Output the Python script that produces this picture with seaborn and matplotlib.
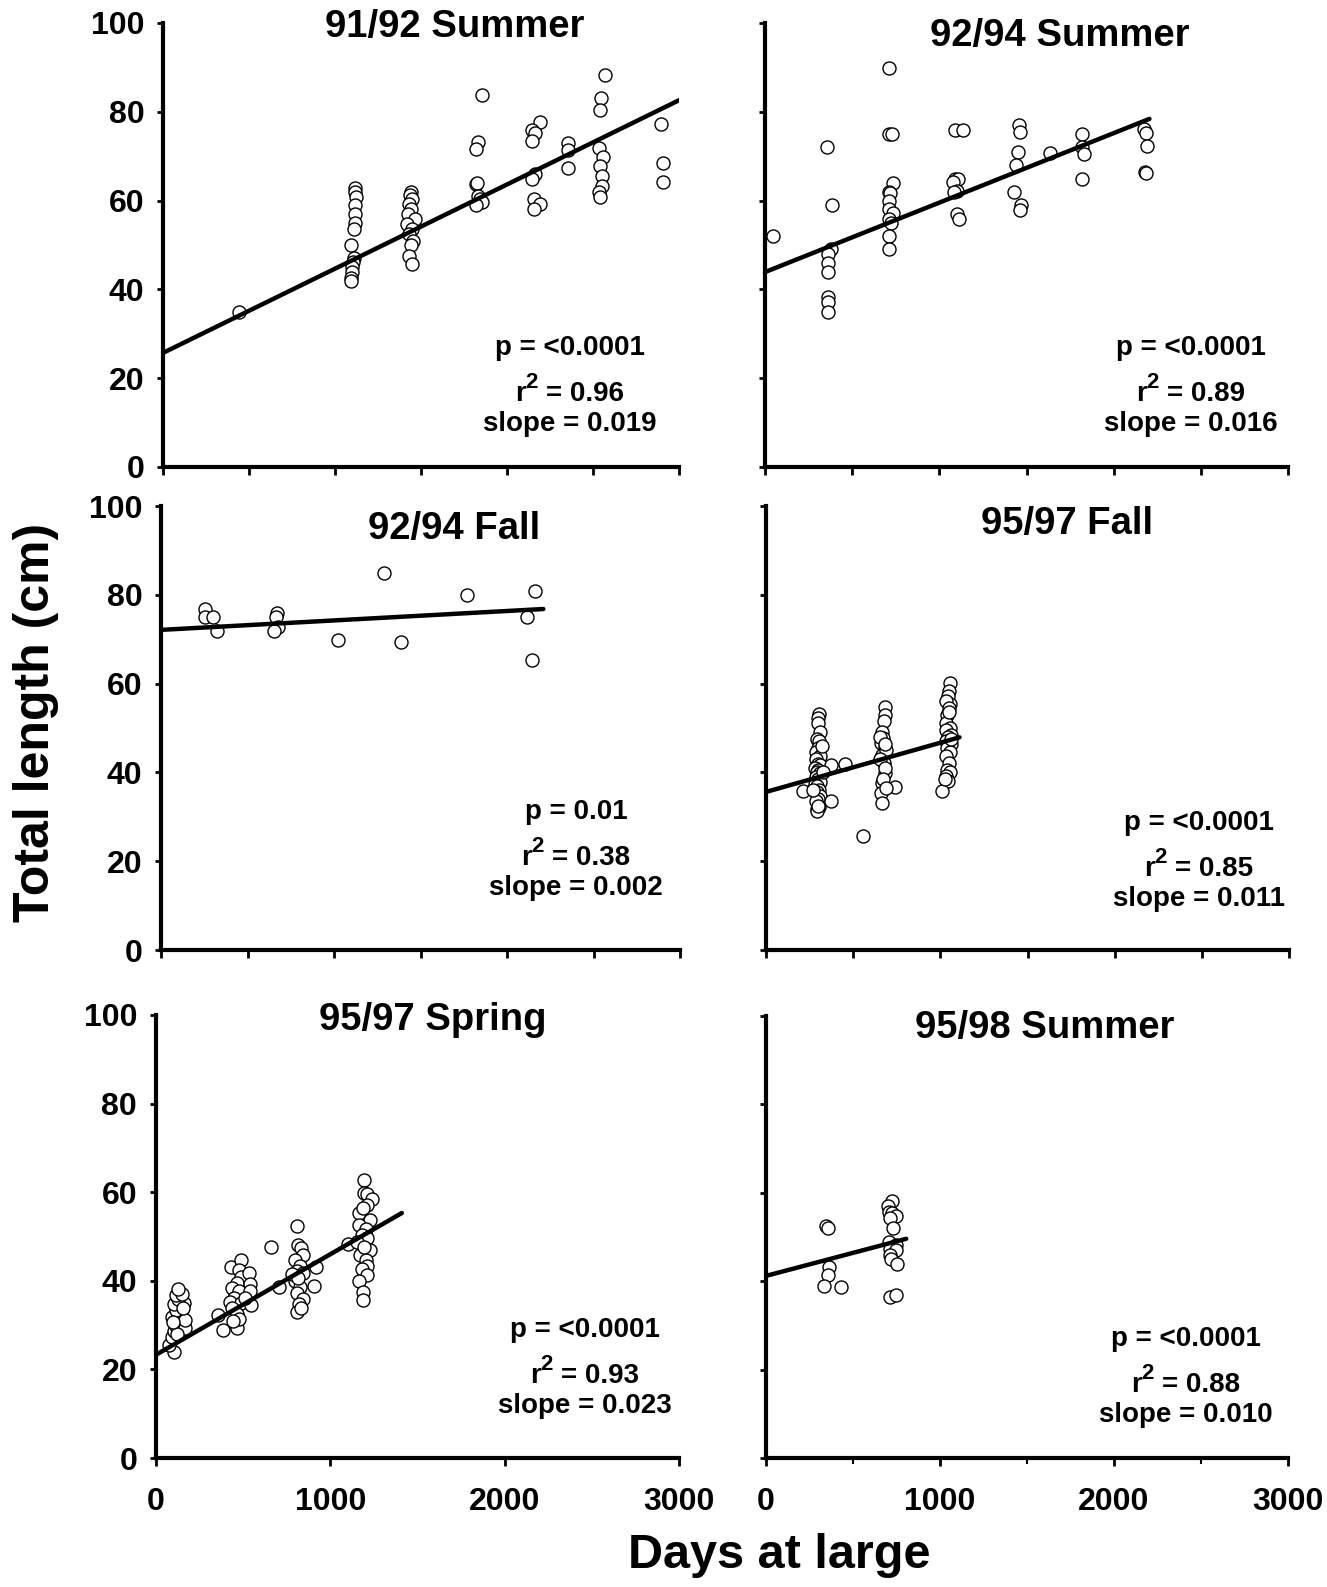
import numpy as np
import pandas as pd
import matplotlib
matplotlib.use("Agg")
import matplotlib.pyplot as plt
import seaborn as sns

sns.set_theme(style="white")
plt.rcParams["font.family"] = ["Liberation Sans", "DejaVu Sans"]
plt.rcParams["font.weight"] = "bold"

# ---------------- data ----------------
titles = ["91/92 Summer", "92/94 Summer", "92/94 Fall", "95/97 Fall", "95/97 Spring", "95/98 Summer"]
p_texts = ["p = <0.0001", "p = <0.0001", "p = 0.01", "p = <0.0001", "p = <0.0001", "p = <0.0001"]
r2_values = ["0.96", "0.89", "0.38", "0.85", "0.93", "0.88"]
slope_values = ["0.019", "0.016", "0.002", "0.011", "0.023", "0.010"]
y_ticks = [0, 20, 40, 60, 80, 100]
x_ticks_full = [0, 500, 1000, 1500, 2000, 2500, 3000]
x_ticks_major = [0, 1000, 2000, 3000]
x_ticks_minor = [500, 1500, 2500]

# 91/92 Summer
p1_days = [440,
           1117, 1117, 1122, 1117, 1115, 1117, 1112, 1091, 1109, 1105, 1100, 1097, 1094, 1091,
           1440, 1435, 1445, 1430, 1442, 1425, 1468, 1420, 1450, 1430, 1455, 1440, 1430, 1448,
           1852, 1831, 1818, 1818, 1826, 1833, 1844, 1852, 1818,
           2190, 2143, 2164, 2148, 2164, 2148, 2156, 2190, 2156,
           2356, 2356, 2356,
           2571, 2545, 2538, 2533, 2558, 2538, 2553, 2553, 2533, 2538,
           2896, 2909, 2909]
p1_length = [35.0,
             62.9, 61.9, 60.8, 58.9, 56.9, 54.9, 53.6, 49.9, 47.0, 46.1, 45.0, 43.9, 42.5, 41.8,
             62.0, 61.2, 60.4, 59.3, 58.1, 57.0, 55.9, 54.8, 53.6, 52.5, 50.8, 49.9, 47.6, 45.8,
             83.8, 73.1, 71.6, 63.8, 64.0, 61.1, 60.4, 59.6, 58.9,
             77.6, 75.8, 75.2, 73.5, 66.0, 64.9, 60.4, 59.3, 58.0,
             73.0, 71.3, 67.4,
             88.3, 83.0, 80.3, 71.8, 69.8, 67.7, 65.6, 63.2, 61.9, 60.9,
             77.3, 68.4, 64.3]
p1_fit_days = [0, 3000]
p1_fit_length = [25.7, 82.6]

# 92/94 Summer
p2_days = [46, 355, 384, 378, 362, 362, 362, 362, 362, 362,
           710, 710, 728, 732, 710, 717, 710, 710, 737, 710, 721, 710, 710,
           1088, 1133, 1088, 1106, 1076, 1099, 1083, 1099, 1115,
           1459, 1465, 1454, 1438, 1431, 1470, 1465,
           1637, 1820, 1820, 1832, 1820,
           2175, 2187, 2194, 2182, 2187]
p2_length = [52.0, 72.0, 59.0, 49.0, 48.0, 46.0, 44.0, 38.3, 37.1, 35.0,
             89.9, 75.0, 75.0, 64.0, 62.0, 61.7, 60.0, 58.1, 57.2, 55.9, 55.0, 52.0, 49.1,
             75.9, 75.9, 64.9, 64.9, 64.1, 62.1, 61.9, 57.0, 55.9,
             77.0, 75.5, 70.9, 68.1, 61.9, 58.9, 57.8,
             70.7, 75.0, 72.0, 70.4, 64.9,
             76.1, 75.2, 72.2, 66.5, 66.3]
p2_fit_days = [0, 2205]
p2_fit_length = [43.9, 78.4]

# 92/94 Fall
p3_days = [252, 252, 303, 326, 668, 663, 674, 656, 1023, 1290, 1388, 1769, 2116, 2159, 2147]
p3_length = [76.9, 74.9, 74.9, 71.8, 76.0, 74.9, 72.8, 71.8, 69.8, 84.9, 69.4, 79.9, 74.9, 80.9, 65.3]
p3_fit_days = [0, 2210]
p3_fit_length = [72.1, 76.8]

# 95/97 Fall
p4_days = [305, 300, 298, 308, 290, 305, 300, 285, 310, 288, 298, 312, 282, 300, 292, 310,
           287, 300, 310, 283, 295, 305, 290, 308, 300, 285, 305, 295, 290, 298,
           214, 375, 375, 455, 325, 320, 268,
           680, 683, 678, 668, 672, 660, 680, 665, 675, 680, 668, 660, 663, 690, 655,
           685, 670, 655, 739, 557, 685, 690,
           1057, 1048, 1045, 1055, 1030, 1050, 1040, 1035, 1055, 1030, 1060, 1045, 1030,
           1062, 1040, 1055, 1035, 1050, 1040, 1055, 1030, 1045, 1010, 1025, 1060, 1048]
p4_length = [53.2, 52.3, 51.1, 49.0, 47.5, 47.0, 45.5, 44.5, 43.6, 43.0, 42.0, 41.6, 41.0, 40.5, 40.0, 39.8,
             39.0, 38.5, 37.8, 37.5, 37.0, 36.1, 35.5, 34.6, 34.0, 33.5, 32.3, 31.8, 31.2, 32.5,
             35.7, 41.6, 33.5, 41.9, 40.0, 46.0, 36.0,
             54.7, 53.0, 51.5, 49.2, 47.7, 46.6, 45.6, 44.0, 42.1, 39.8, 37.6, 35.3, 33.1, 45.0, 43.0,
             41.0, 38.5, 48.0, 36.7, 25.6, 46.5, 36.5,
             60.2, 58.4, 57.1, 55.5, 56.0, 54.5, 52.9, 51.1, 50.0, 49.6, 48.5, 48.0, 47.0,
             46.5, 45.5, 44.5, 43.6, 42.1, 40.6, 40.0, 39.1, 38.0, 35.9, 38.5, 47.5, 53.5]
p4_fit_days = [0, 1110]
p4_fit_length = [35.6, 47.9]

# 95/97 Spring
p5_days = [103, 77, 90, 103, 115, 128, 90, 141, 115, 103, 162, 128, 115, 149, 128, 167, 167, 154, 123, 97,
           354, 385, 462, 431, 487, 474, 487, 462, 436, 474, 449, 423, 487, 436, 462, 474, 441,
           533, 538, 538, 544, 513,
           662, 705, 808, 815, 833, 841, 795, 826, 808, 841, 795, 826, 808, 841, 821, 808, 833,
           905, 918, 782, 815,
           1103,
           1192, 1192, 1210, 1238, 1213, 1162, 1226, 1167, 1205, 1179, 1210, 1154, 1226, 1172,
           1205, 1213, 1179, 1210, 1167, 1187, 1187, 1192, 1185]
p5_length = [24.0, 25.6, 27.3, 28.6, 29.9, 31.2, 31.8, 32.5, 33.4, 34.7, 34.9, 36.0, 36.9, 37.0, 38.2, 29.3, 31.2, 33.8, 28.1, 30.7,
             32.3, 29.0, 29.3, 43.2, 44.8, 42.5, 40.8, 39.6, 38.4, 37.6, 36.2, 35.2, 34.9, 33.8, 32.5, 31.4, 31.0,
             41.7, 39.3, 37.7, 34.5, 36.2,
             47.6, 38.6, 52.3, 48.1, 47.3, 45.8, 44.7, 43.4, 42.1, 41.7, 39.9, 38.6, 37.3, 36.0, 34.7, 33.0, 33.8,
             38.8, 43.1, 41.5, 40.6,
             48.2,
             62.7, 59.9, 59.5, 58.4, 57.0, 55.4, 53.8, 52.5, 51.6, 50.3, 49.6, 48.7, 47.0, 45.9,
             44.6, 43.3, 42.6, 41.3, 40.0, 37.4, 35.6, 47.6, 56.4]
p5_fit_days = [0, 1410]
p5_fit_length = [23.3, 55.3]

# 95/98 Summer
p6_days = [346, 359, 364, 357, 334, 431,
           726, 702, 707, 726, 749, 714, 730, 707, 749, 712, 749, 714, 721, 753, 714, 749]
p6_length = [52.5, 52.1, 43.1, 41.3, 39.0, 38.7,
             58.1, 57.1, 55.6, 55.5, 54.7, 54.2, 52.0, 48.8, 48.3, 47.3, 47.0, 46.0, 45.1, 44.0, 36.5, 36.8]
p6_fit_days = [0, 806]
p6_fit_length = [41.2, 49.6]

# ---------------- layout (pixels) ----------------
W, H = 1327, 1587
fig = plt.figure(figsize=(W / 100, H / 100), dpi=100)
fig.patch.set_facecolor("white")
renderer = fig.canvas.get_renderer()

STAT_FS = 20
SUP_FS = 16

def px_axes(l, r, t, b):
    return fig.add_axes([l / W, 1 - b / H, (r - l) / W, (b - t) / H])

def fig_text(x, y, s, **kw):
    return fig.text(x / W, 1 - y / H, s, **kw)

def text_w(s, size):
    t = fig.text(0, 0, s, fontsize=size, fontweight="bold")
    w = t.get_window_extent(renderer).width
    t.remove()
    return w

def r2_line(cx, base_y, value):
    w_r = text_w("r", STAT_FS)
    w_2 = text_w("2", SUP_FS)
    rest = "= " + value
    w_rest = text_w(rest, STAT_FS)
    gap = 0.28 * STAT_FS * 100 / 72
    total = w_r + w_2 + gap + w_rest
    x0 = cx - total / 2
    fig_text(x0, base_y, "r", ha="left", va="baseline", fontsize=STAT_FS, fontweight="bold", color="black")
    fig_text(x0 + w_r - 1, base_y - 13, "2", ha="left", va="baseline", fontsize=SUP_FS,
             fontweight="bold", color="black")
    fig_text(x0 + w_r + w_2 + gap, base_y, rest, ha="left", va="baseline", fontsize=STAT_FS,
             fontweight="bold", color="black")

panels = [
    dict(box=(163, 679, 23, 467), days=p1_days, length=p1_length, fd=p1_fit_days, fl=p1_fit_length,
         col=0, row=0, title_xy=(455, 27), stat_xy=(570, 355)),
    dict(box=(765, 1288, 23, 467), days=p2_days, length=p2_length, fd=p2_fit_days, fl=p2_fit_length,
         col=1, row=0, title_xy=(1060, 36), stat_xy=(1191, 355)),
    dict(box=(161, 680, 506, 950), days=p3_days, length=p3_length, fd=p3_fit_days, fl=p3_fit_length,
         col=0, row=1, title_xy=(454, 529), stat_xy=(576, 819)),
    dict(box=(766, 1289, 506, 950), days=p4_days, length=p4_length, fd=p4_fit_days, fl=p4_fit_length,
         col=1, row=1, title_xy=(1067, 524), stat_xy=(1199, 830)),
    dict(box=(156, 679, 1015, 1458), days=p5_days, length=p5_length, fd=p5_fit_days, fl=p5_fit_length,
         col=0, row=2, title_xy=(433, 1020), stat_xy=(585, 1337)),
    dict(box=(766, 1288, 1016, 1458), days=p6_days, length=p6_length, fd=p6_fit_days, fl=p6_fit_length,
         col=1, row=2, title_xy=(1045, 1028), stat_xy=(1186, 1346)),
]

for i, pnl in enumerate(panels):
    ax = px_axes(*pnl["box"])
    ax.set_facecolor("white")
    df = pd.DataFrame({"days": pnl["days"], "length": pnl["length"]})
    fit = pd.DataFrame({"days": pnl["fd"], "length": pnl["fl"]})
    sns.scatterplot(data=df, x="days", y="length", ax=ax, s=88, facecolor="white",
                    edgecolor="black", linewidth=1.0, zorder=3, clip_on=False)
    sns.lineplot(data=fit, x="days", y="length", ax=ax, color="black", linewidth=3.2,
                 estimator=None, sort=False, zorder=4)
    ax.set_xlim(0, 3000)
    ax.set_ylim(0, 100)
    ax.set_xlabel("")
    ax.set_ylabel("")
    for side in ["top", "right"]:
        ax.spines[side].set_visible(False)
    for side in ["left", "bottom"]:
        ax.spines[side].set_visible(True)
        ax.spines[side].set_linewidth(3.0)
        ax.spines[side].set_color("black")
    ax.grid(False)

    ax.set_yticks(y_ticks)
    ax.tick_params(axis="y", left=True, direction="out", length=4.5, width=2.0,
                   color="black", labelsize=23, pad=9, labelleft=(pnl["col"] == 0))
    if pnl["row"] < 2:
        ax.set_xticks(x_ticks_full)
        ax.tick_params(axis="x", bottom=True, direction="out", length=6, width=2.0,
                       color="black", labelbottom=False)
    else:
        ax.set_xticks(x_ticks_major)
        ax.tick_params(axis="x", bottom=True, direction="out", length=6, width=2.0,
                       color="black", labelsize=23, pad=15, labelbottom=True)
        if pnl["col"] == 1:
            ax.set_xticks(x_ticks_minor, minor=True)
            ax.tick_params(axis="x", which="minor", bottom=True, direction="out",
                           length=4, width=1.5, color="black")
    for lab in ax.get_xticklabels() + ax.get_yticklabels():
        lab.set_fontweight("bold")
        lab.set_color("black")

    tx, ty = pnl["title_xy"]
    fig_text(tx, ty, titles[i], ha="center", va="center", fontsize=27.5, fontweight="bold", color="black")
    sx, sy = pnl["stat_xy"]
    fig_text(sx, sy, p_texts[i], ha="center", va="baseline", fontsize=STAT_FS, fontweight="bold", color="black")
    r2_line(sx, sy + 46, r2_values[i])
    fig_text(sx, sy + 76, "slope = " + slope_values[i], ha="center", va="baseline",
             fontsize=STAT_FS, fontweight="bold", color="black")

fig_text(36, 722, "Total length (cm)", rotation=90, ha="center", va="center",
         fontsize=36, fontweight="bold", color="black")
fig_text(779, 1556, "Days at large", ha="center", va="center",
         fontsize=35, fontweight="bold", color="black")

fig.savefig("out.png", dpi=100, facecolor="white")
